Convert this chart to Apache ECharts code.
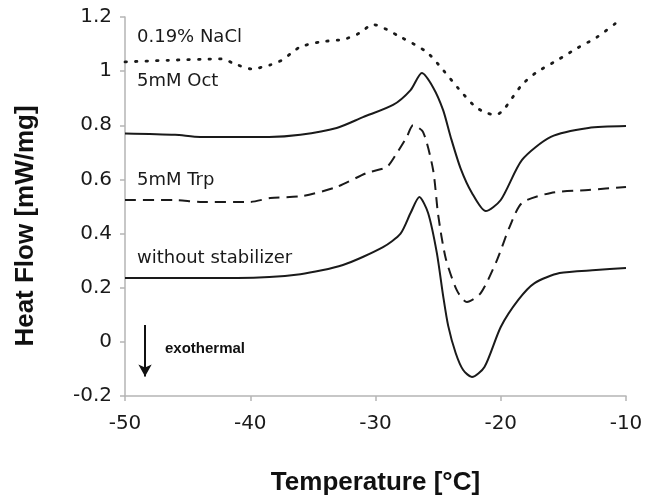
<!DOCTYPE html>
<html>
<head>
<meta charset="utf-8">
<script src="https://cdn.jsdelivr.net/npm/echarts@6/dist/echarts.min.js"></script>
<style>
  html, body { margin: 0; padding: 0; background: #fff; }
  #chart { width: 648px; height: 502px; }
</style>
</head>
<body>
<div id="chart"></div>
<script>
// [temperature °C, heat flow mW/mg]
const naclData = [
  [-50, 1.034], [-46.6, 1.04], [-42.2, 1.045], [-41.4, 1.03], [-39.9, 1.008], [-38.4, 1.023],
  [-37.5, 1.04], [-36.7, 1.067], [-36, 1.09], [-34.4, 1.108], [-32.5, 1.118], [-31.3, 1.14],
  [-30.2, 1.172], [-28, 1.126], [-25.9, 1.07], [-24.6, 1.004], [-23.4, 0.937], [-22, 0.867],
  [-21.1, 0.845], [-20.4, 0.838], [-19.8, 0.856], [-18.3, 0.95], [-17.1, 0.997],
  [-15.5, 1.04], [-13.9, 1.085], [-12.3, 1.126], [-10.6, 1.185]
]
const octData = [
  [-50, 0.77], [-46, 0.765], [-44, 0.757], [-38.5, 0.757], [-36, 0.765], [-33.1, 0.79],
  [-31, 0.83], [-28.6, 0.875], [-27.2, 0.93], [-26.3, 0.993], [-25.4, 0.94], [-24.6, 0.856],
  [-24, 0.757], [-23.2, 0.64], [-22.3, 0.55], [-21.2, 0.483], [-20, 0.524], [-18.3, 0.672],
  [-16, 0.757], [-13, 0.79], [-10, 0.797]
]
const trpData = [
  [-50, 0.524], [-46, 0.524], [-44, 0.517], [-40, 0.517], [-38.4, 0.531], [-35.8, 0.539],
  [-33.1, 0.572], [-30.7, 0.624], [-29.1, 0.646], [-28.3, 0.697], [-27.5, 0.757], [-27, 0.8],
  [-26.2, 0.775], [-25.4, 0.635], [-25, 0.47], [-24.4, 0.31], [-23.5, 0.19], [-22.7, 0.147],
  [-21.6, 0.18], [-20.3, 0.302], [-19.3, 0.424], [-18.3, 0.513], [-16, 0.55], [-13, 0.561], [-10, 0.572]
]
const plainData = [
  [-50, 0.236], [-41, 0.236], [-36, 0.25], [-32.6, 0.284], [-29.4, 0.35], [-28, 0.4],
  [-27.2, 0.476], [-26.5, 0.535], [-25.8, 0.476], [-25.1, 0.328], [-24.6, 0.17], [-24.2, 0.06],
  [-23.6, -0.041], [-23, -0.104], [-22.3, -0.13], [-21.3, -0.093], [-20, 0.055], [-18.6, 0.155],
  [-17.3, 0.217], [-15.3, 0.254], [-12.4, 0.265], [-10, 0.273]
]
const arrowFrom = [-48.4, 0.062]
const arrowTo = [-48.4, -0.128]

const chart = echarts.init(document.getElementById('chart'))

const tickFont = { fontFamily: 'DejaVu Sans', fontSize: 20, color: '#1a1a1a' }
const titleFont = { fontFamily: 'Liberation Sans', fontWeight: 'bold', fontSize: 26, color: '#111' }

function curve(name, data, type) {
  return {
    name: name,
    type: 'line',
    data: data,
    smooth: 0.25,
    showSymbol: false,
    lineStyle: { color: '#1a1a1a', width: 2, type: type },
    animation: false
  }
}

const nacl = curve('0.19% NaCl', naclData, [1.5, 9])
nacl.lineStyle.width = 2.8
nacl.lineStyle.cap = 'round'

const plain = curve('without stabilizer', plainData, 'solid')
plain.markLine = {
  silent: true,
  symbol: ['none', 'arrow'],
  symbolSize: [10, 12],
  label: { show: false },
  lineStyle: { color: '#111', width: 2, type: 'solid' },
  data: [[{ coord: arrowFrom }, { coord: arrowTo }]]
}

const labelStyle = { fontFamily: 'DejaVu Sans', fontSize: 18, fill: '#1a1a1a', verticalAlign: 'middle' }

chart.setOption({
  backgroundColor: '#fff',
  grid: { left: 125, right: 22, top: 17, bottom: 106 },
  xAxis: {
    type: 'value',
    min: -50, max: -10, interval: 10,
    name: 'Temperature [°C]',
    nameLocation: 'middle',
    nameGap: 74,
    nameTextStyle: titleFont,
    axisLine: { onZero: false, lineStyle: { color: '#b5b5b5', width: 1.5 } },
    axisTick: { length: 5, lineStyle: { color: '#b5b5b5', width: 1.5 } },
    axisLabel: Object.assign({ margin: 18 }, tickFont),
    splitLine: { show: false }
  },
  yAxis: {
    type: 'value',
    min: -0.2, max: 1.2, interval: 0.2,
    axisLine: { show: true, lineStyle: { color: '#b5b5b5', width: 1.5 } },
    axisTick: { show: true, length: 5, lineStyle: { color: '#b5b5b5', width: 1.5 } },
    axisLabel: Object.assign({ margin: 13, formatter: v => String(Math.round(v * 10) / 10) }, tickFont),
    splitLine: { show: false }
  },
  series: [
    nacl,
    curve('5mM Oct', octData, 'solid'),
    curve('5mM Trp', trpData, [11, 7]),
    plain
  ],
  graphic: [
    { type: 'text', x: 26, y: 226, rotation: Math.PI / 2,
      style: { text: 'Heat Flow [mW/mg]', fontFamily: 'Liberation Sans', fontWeight: 'bold', fontSize: 26, fill: '#111', align: 'center', verticalAlign: 'middle' } },
    { type: 'text', x: 137, y: 37, style: Object.assign({ text: '0.19% NaCl' }, labelStyle) },
    { type: 'text', x: 137, y: 81, style: Object.assign({ text: '5mM Oct' }, labelStyle) },
    { type: 'text', x: 137, y: 180, style: Object.assign({ text: '5mM Trp' }, labelStyle) },
    { type: 'text', x: 137, y: 258, style: Object.assign({ text: 'without stabilizer' }, labelStyle) },
    { type: 'text', x: 165, y: 349, style: { text: 'exothermal', fontFamily: 'Liberation Sans', fontWeight: 'bold', fontSize: 15, fill: '#111', verticalAlign: 'middle' } }
  ]
})
</script>
</body>
</html>
